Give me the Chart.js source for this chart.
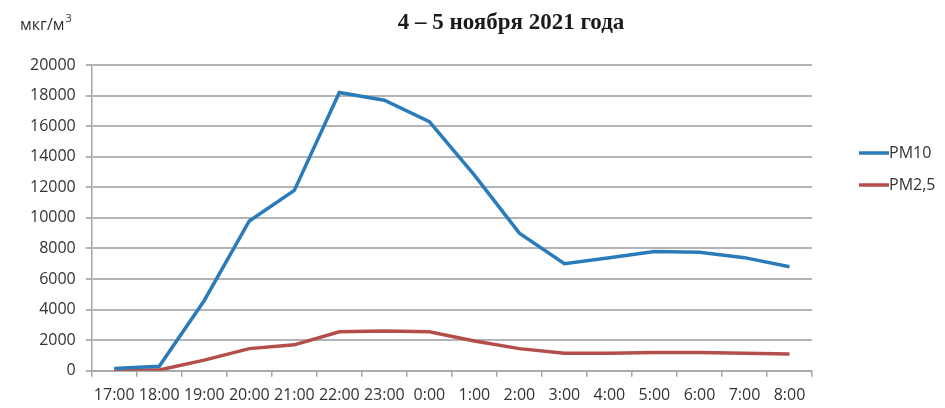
<!DOCTYPE html>
<html>
<head>
<meta charset="utf-8">
<script src="https://cdn.jsdelivr.net/npm/chart.js@4/dist/chart.umd.min.js"></script>
<style>
  html, body { margin: 0; padding: 0; background: #fff; }
  #wrap { width: 945px; height: 408px; }
</style>
</head>
<body>
<div id="wrap"><canvas id="chart-line"></canvas></div>
<script>
// Часы наблюдения
var hours = ["17:00", "18:00", "19:00", "20:00", "21:00", "22:00", "23:00", "0:00",
             "1:00", "2:00", "3:00", "4:00", "5:00", "6:00", "7:00", "8:00"];

// Концентрации, мкг/м3
var pm10 = [150, 300, 4600, 9800, 11800, 18200, 17700, 16300,
            12800, 9000, 7000, 7400, 7800, 7750, 7400, 6800];
var pm25 = [50, 50, 700, 1450, 1700, 2550, 2600, 2550,
            1950, 1450, 1150, 1150, 1200, 1200, 1150, 1100];

var yTicks = [0, 2000, 4000, 6000, 8000, 10000, 12000, 14000, 16000, 18000, 20000];

var titleText = "4 – 5 ноября 2021 года";
var unitText = "мкг/м";

// подписи, легенда и заголовок
var extras = {
    id: "extras",
    afterDraw: function (chart) {
        var c = chart.ctx;
        c.save();
        c.fillStyle = "#1a1a1a";
        c.font = "bold 23px 'Liberation Serif'";
        c.textAlign = "center";
        c.textBaseline = "middle";
        c.fillText(titleText, 511, 23);

        c.fillStyle = "#333";
        c.font = "16px 'Open Sans'";
        c.textAlign = "left";
        c.fillText(unitText, 20, 25);
        var w = c.measureText(unitText).width;
        c.font = "11px 'Open Sans'";
        c.fillText("3", 20 + w + 1, 19);

        // легенда
        var ys = [153, 185];
        chart.data.datasets.forEach(function (ds, i) {
            c.strokeStyle = ds.borderColor;
            c.lineWidth = 3.5;
            c.beginPath();
            c.moveTo(859, ys[i]);
            c.lineTo(889, ys[i]);
            c.stroke();
            c.fillStyle = "#333";
            c.font = "16px 'Open Sans'";
            c.textAlign = "left";
            c.fillText(ds.label, 889, ys[i]);
        });
        c.restore();
    }
};

var ctx = document.getElementById("chart-line").getContext("2d");
new Chart(ctx, {
    type: "line",
    data: {
        labels: hours,
        datasets: [{
            label: "PM10",
            data: pm10,
            borderColor: "#2a7bba",
            borderWidth: 3.5,
            pointRadius: 0,
            tension: 0,
            fill: false
        }, {
            label: "PM2,5",
            data: pm25,
            borderColor: "#b44e4a",
            borderWidth: 3.5,
            pointRadius: 0,
            tension: 0,
            fill: false
        }]
    },
    options: {
        responsive: true,
        maintainAspectRatio: false,
        animation: false,
        layout: {
            padding: { left: 20, right: 133, top: 65, bottom: -6 }
        },
        plugins: {
            legend: { display: false },
            title: { display: false },
            tooltip: { enabled: false }
        },
        scales: {
            x: {
                offset: true,
                grid: {
                    offset: true,
                    drawOnChartArea: false,
                    drawTicks: true,
                    tickLength: 6,
                    color: "#a6a6a6",
                    lineWidth: 1.5
                },
                border: { color: "#a6a6a6", width: 1.5 },
                ticks: {
                    color: "#333",
                    padding: 9,
                    maxRotation: 0,
                    autoSkip: false,
                    font: { size: 16, family: "Open Sans" }
                }
            },
            y: {
                min: 0,
                max: 20000,
                afterBuildTicks: function (axis) {
                    axis.ticks = yTicks.map(function (v) { return { value: v }; });
                },
                grid: {
                    color: "#b3b3b8",
                    lineWidth: 2,
                    drawTicks: true,
                    tickLength: 6
                },
                border: { color: "#a6a6a6", width: 1.5 },
                ticks: {
                    color: "#333",
                    padding: 10,
                    font: { size: 16, family: "Open Sans" },
                    callback: function (v) { return String(v); }
                }
            }
        }
    },
    plugins: [extras]
});
</script>
</body>
</html>
